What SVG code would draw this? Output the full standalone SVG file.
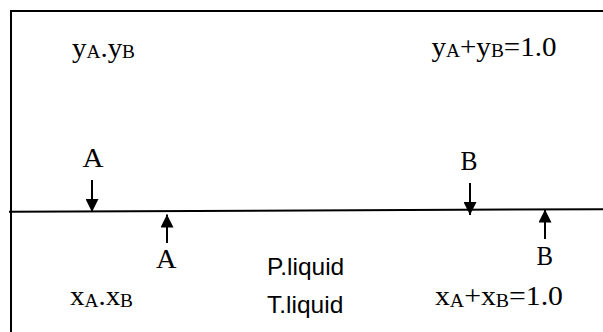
<svg xmlns="http://www.w3.org/2000/svg" width="603" height="332" viewBox="0 0 603 332">
<style>
.s{font-family:"Liberation Serif","Times New Roman",serif;font-size:27px;fill:#000}
.sub{font-size:18px}
.ss{font-family:"Liberation Sans",Arial,sans-serif;font-size:24.5px;fill:#000}
.ln{stroke:#000;stroke-width:2;fill:none}
.ar{stroke:#000;stroke-width:2;fill:none;marker-end:url(#ah)}
</style>
<defs>
<marker id="ah" markerUnits="userSpaceOnUse" viewBox="0 0 14 14" refX="14" refY="7" markerWidth="15" markerHeight="13" orient="auto">
<path d="M0,0 L14,7 L0,14 z" fill="#000"/>
</marker>
</defs>
<g id="box">
<line class="ln" x1="11" y1="11" x2="603" y2="11"/>
<line class="ln" x1="11" y1="10" x2="11" y2="332"/>
</g>
<g id="interface">
<line class="ln" x1="9" y1="211.7" x2="603" y2="209.2"/>
</g>
<g id="connectors">
<line class="ar" x1="92" y1="180" x2="92" y2="212"/>
<line class="ar" x1="167" y1="243" x2="167" y2="214.5"/>
<line class="ar" x1="470" y1="183" x2="470" y2="215"/>
<line class="ar" x1="545" y1="239" x2="545" y2="209.5"/>
</g>
<g id="vapor-left"><text class="s" x="72" y="57" textLength="63" lengthAdjust="spacingAndGlyphs">y<tspan class="sub" dy="1">A</tspan><tspan dy="-1">.y</tspan><tspan class="sub" dy="1">B</tspan></text></g>
<g id="vapor-right"><text class="s" x="431.5" y="56" textLength="125" lengthAdjust="spacingAndGlyphs">y<tspan class="sub" dy="1">A</tspan><tspan dy="-1">+y</tspan><tspan class="sub" dy="1">B</tspan><tspan dy="-1">=1.0</tspan></text></g>
<g id="label-A-top"><text class="s" x="82.5" y="167" textLength="21" lengthAdjust="spacingAndGlyphs">A</text></g>
<g id="label-B-top"><text class="s" x="460.5" y="170" textLength="17" lengthAdjust="spacingAndGlyphs">B</text></g>
<g id="label-A-bottom"><text class="s" x="156" y="268" textLength="20.5" lengthAdjust="spacingAndGlyphs">A</text></g>
<g id="label-B-bottom"><text class="s" x="536.5" y="265" textLength="16.5" lengthAdjust="spacingAndGlyphs">B</text></g>
<g id="liquid-left"><text class="s" x="70" y="305" textLength="63" lengthAdjust="spacingAndGlyphs">x<tspan class="sub" dy="1.5">A</tspan><tspan dy="-1.5">.x</tspan><tspan class="sub" dy="1.5">B</tspan></text></g>
<g id="liquid-right"><text class="s" x="435" y="305" textLength="128" lengthAdjust="spacingAndGlyphs">x<tspan class="sub" dy="1.5">A</tspan><tspan dy="-1.5">+x</tspan><tspan class="sub" dy="1.5">B</tspan><tspan dy="-1.5">=1.0</tspan></text></g>
<g id="p-liquid"><text class="ss" x="267" y="274.5">P.liquid</text></g>
<g id="t-liquid"><text class="ss" x="267" y="313">T.liquid</text></g>
</svg>
